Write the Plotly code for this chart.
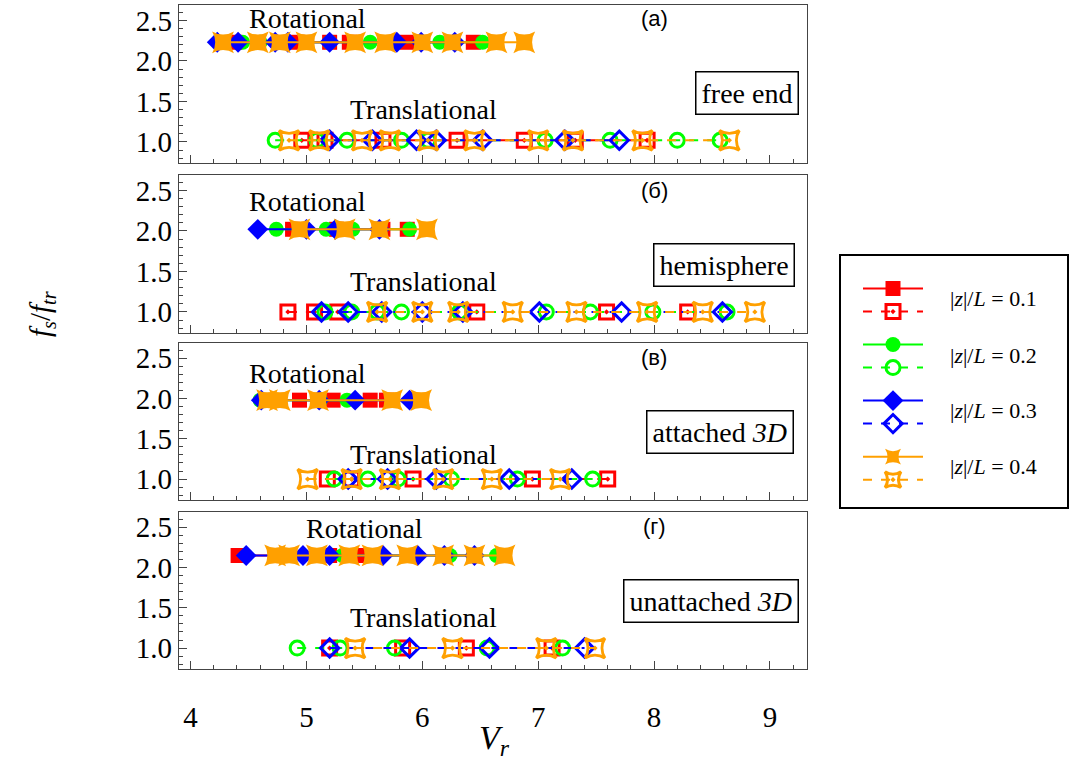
import plotly.graph_objects as go

# ---------------- data (V_r values) ----------------
z_values = ["0.1", "0.2", "0.3", "0.4"]
colors = ["#FF0000", "#00FF00", "#0000FF", "#FFA000"]
filled_symbols = ["square", "circle", "diamond", "star-diamond"]
open_symbols = ["square-open-dot", "circle-open", "diamond-open", "star-diamond-open-dot"]
symbol_angles = [0, 0, 0, 45]

panel_tags = ["(а)", "(б)", "(в)", "(г)"]
panel_names = ["free end", "hemisphere", "attached <i>3D</i>", "unattached <i>3D</i>"]

rot_level = [2.23, 2.02, 1.98, 2.15]
trans_level = [1.02, 1.0, 1.0, 1.0]

# panel (а) free end
a_rot_01 = [4.38, 4.92, 5.20, 5.37, 5.87, 6.44]
a_rot_02 = [4.45, 4.60, 5.20, 5.55, 6.15, 6.52]
a_rot_03 = [4.23, 4.41, 4.73, 4.84, 5.20, 5.78, 5.99, 6.28]
a_rot_04 = [4.28, 4.58, 4.77, 5.00, 5.42, 5.68, 6.00, 6.26, 6.64, 6.88]
a_tr_01 = [4.96, 5.16, 5.66, 6.30, 6.88, 7.32, 7.94]
a_tr_02 = [4.73, 5.09, 5.35, 5.82, 6.05, 7.06, 7.62, 8.20, 8.57]
a_tr_03 = [5.20, 5.57, 5.95, 6.12, 6.52, 7.23, 7.70]
a_tr_04 = [4.85, 5.11, 5.48, 5.72, 6.05, 6.45, 7.00, 7.30, 7.90, 8.65]

# panel (б) hemisphere
b_rot_01 = [4.88, 5.26, 5.66, 5.87]
b_rot_02 = [4.74, 5.17, 5.40, 5.89]
b_rot_03 = [4.58, 5.00, 5.25, 5.63]
b_rot_04 = [4.94, 5.33, 5.63, 6.04]
b_tr_01 = [4.84, 5.07, 5.27, 6.47, 7.59, 8.29]
b_tr_02 = [5.16, 5.39, 5.61, 5.82, 6.32, 7.07, 7.45, 7.99, 8.63]
b_tr_03 = [5.13, 5.36, 5.65, 6.00, 6.35, 7.01, 7.72, 8.59]
b_tr_04 = [5.61, 6.00, 6.31, 6.78, 7.33, 7.94, 8.42, 8.87]

# panel (в) attached 3D
c_rot_01 = [4.94, 5.23, 5.55, 5.69]
c_rot_02 = [4.60, 4.72, 5.12, 5.35]
c_rot_03 = [4.61, 5.11, 5.42, 5.89]
c_rot_04 = [4.66, 4.77, 5.10, 5.74, 5.99]
c_tr_01 = [5.18, 5.39, 5.92, 6.95, 7.60]
c_tr_02 = [5.24, 5.53, 5.79, 6.25, 6.82, 7.47]
c_tr_03 = [5.36, 5.70, 6.12, 6.75, 7.29]
c_tr_04 = [5.01, 5.39, 5.72, 6.18, 6.60, 7.19]

# panel (г) unattached 3D
d_rot_01 = [4.41, 4.85, 5.20, 5.49, 5.62]
d_rot_02 = [4.75, 5.11, 5.31, 5.63, 5.91, 6.24, 6.44, 6.64]
d_rot_03 = [4.48, 4.97, 5.20, 5.66, 5.96, 6.19, 6.45]
d_rot_04 = [4.73, 4.85, 5.09, 5.37, 5.57, 5.87, 6.18, 6.45, 6.71]
d_tr_01 = [5.20, 5.83, 6.38, 7.12]
d_tr_02 = [4.92, 5.29, 5.76, 6.56, 7.21]
d_tr_03 = [5.20, 5.89, 6.58, 7.40]
d_tr_04 = [5.42, 6.26, 7.07, 7.49]

rot_sets = [
    [a_rot_01, a_rot_02, a_rot_03, a_rot_04],
    [b_rot_01, b_rot_02, b_rot_03, b_rot_04],
    [c_rot_01, c_rot_02, c_rot_03, c_rot_04],
    [d_rot_01, d_rot_02, d_rot_03, d_rot_04],
]
tr_sets = [
    [a_tr_01, a_tr_02, a_tr_03, a_tr_04],
    [b_tr_01, b_tr_02, b_tr_03, b_tr_04],
    [c_tr_01, c_tr_02, c_tr_03, c_tr_04],
    [d_tr_01, d_tr_02, d_tr_03, d_tr_04],
]

# ---------------- layout helpers (pixel -> paper) ----------------
W, H = 1071, 763
ML, MR, MT, MB = 179, 3, 5, 94
PW = W - ML - MR
PH = H - MT - MB


def px_x(px):
    return (px - ML) / PW


def px_y(py):
    return (H - MB - py) / PH


panel_px = [(5, 163), (175, 333), (343, 500), (512, 669)]
x_dom = [0, px_x(807)]

SERIF = "Liberation Serif"
SANS = "Liberation Sans"

fig = go.Figure()

for p in range(4):
    xa = "x" if p == 0 else f"x{p + 1}"
    ya = "y" if p == 0 else f"y{p + 1}"
    for i in range(4):
        xs = sorted(rot_sets[p][i])
        fig.add_trace(go.Scatter(
            x=xs, y=[rot_level[p]] * len(xs), xaxis=xa, yaxis=ya,
            mode="lines+markers", name=" ",
            legendgroup=f"z{i}", showlegend=(p == 0),
            line=dict(color=colors[i], width=2),
            marker=dict(symbol=filled_symbols[i], color=colors[i], angle=symbol_angles[i],
                        size=[15, 15, 16, 22][i], line=dict(width=0)),
        ))
        xs = sorted(tr_sets[p][i])
        fig.add_trace(go.Scatter(
            x=xs, y=[trans_level[p]] * len(xs), xaxis=xa, yaxis=ya,
            mode="lines+markers", name=" ",
            legendgroup=f"z{i}", showlegend=(p == 0),
            line=dict(color=colors[i], width=2, dash="dash"),
            marker=dict(symbol=open_symbols[i], color=colors[i], angle=symbol_angles[i],
                        size=[14, 14, 14, 20][i], line=dict(width=3, color=colors[i])),
        ))

layout = dict(
    width=W, height=H,
    margin=dict(l=ML, r=MR, t=MT, b=MB),
    paper_bgcolor="white", plot_bgcolor="white",
    font=dict(family=SERIF, color="black"),
    showlegend=True,
    legend=dict(
        x=px_x(858), y=px_y(272), xanchor="left", yanchor="top",
        bgcolor="rgba(0,0,0,0)", borderwidth=0,
        traceorder="grouped", tracegroupgap=10,
        itemwidth=60, font=dict(size=15.4, family=SERIF),
        itemclick=False,
    ),
)

for p in range(4):
    sx = "" if p == 0 else str(p + 1)
    top, bot = panel_px[p]
    layout[f"xaxis{sx}"] = dict(
        domain=x_dom, range=[3.9, 9.32], anchor=f"y{sx}",
        showline=True, mirror=True, linecolor="#444", linewidth=1.2,
        ticks="inside", ticklen=8, tickcolor="#444", tick0=4, dtick=1,
        minor=dict(ticks="inside", ticklen=4, dtick=0.2, tick0=4, tickcolor="#444"),
        showgrid=False, zeroline=False,
        showticklabels=(p == 3), ticklabelstandoff=22,
        tickfont=dict(size=29, family=SERIF),
    )
    if p > 0:
        layout[f"xaxis{sx}"]["matches"] = "x"
    layout[f"yaxis{sx}"] = dict(
        domain=[px_y(bot), px_y(top)], range=[0.74, 2.69], anchor=f"x{sx}",
        showline=True, mirror=True, linecolor="#444", linewidth=1.2,
        ticks="inside", ticklen=8, tickcolor="#444", tick0=1.0, dtick=0.5,
        tickformat=".1f",
        minor=dict(ticks="inside", ticklen=4, dtick=0.1, tick0=1.0, tickcolor="#444"),
        showgrid=False, zeroline=False,
        tickfont=dict(size=29, family=SERIF),
    )

fig.update_layout(**layout)

# annotations
ann = []
rot_text_pos = [(5.01, 2.52), (5.01, 2.36), (5.01, 2.31), (5.50, 2.48)]
tr_text_pos = [(6.01, 1.40), (6.01, 1.38), (6.01, 1.30), (6.01, 1.38)]
tag_pos = [(8.0, 2.52), (8.0, 2.50), (8.0, 2.51), (8.0, 2.51)]
box_pos = [(8.80, 1.60), (8.60, 1.58), (8.57, 1.58), (8.49, 1.58)]
for p in range(4):
    xr = "x" if p == 0 else f"x{p + 1}"
    yr = "y" if p == 0 else f"y{p + 1}"
    ann.append(dict(x=rot_text_pos[p][0], y=rot_text_pos[p][1], xref=xr, yref=yr,
                    text="Rotational", showarrow=False,
                    font=dict(size=28, family=SERIF)))
    ann.append(dict(x=tr_text_pos[p][0], y=tr_text_pos[p][1], xref=xr, yref=yr,
                    text="Translational", showarrow=False,
                    font=dict(size=28, family=SERIF)))
    ann.append(dict(x=tag_pos[p][0], y=tag_pos[p][1], xref=xr, yref=yr,
                    text=panel_tags[p], showarrow=False,
                    font=dict(size=22, family=SANS)))
    ann.append(dict(x=box_pos[p][0], y=box_pos[p][1], xref=xr, yref=yr,
                    text=panel_names[p], showarrow=False,
                    font=dict(size=28, family=SERIF),
                    bordercolor="black", borderwidth=1.5, borderpad=5,
                    bgcolor="white"))

legend_label_py = [298, 355, 410, 466]
for i in range(4):
    ann.append(dict(x=px_x(948), y=px_y(legend_label_py[i]), xref="paper", yref="paper",
                    xanchor="left", yanchor="middle", showarrow=False,
                    text=f"|<i>z</i>|/<i>L</i> = {z_values[i]}",
                    font=dict(size=22, family=SERIF)))

ann.append(dict(x=px_x(42), y=px_y(314), xref="paper", yref="paper",
                xanchor="center", yanchor="middle",
                text="<i>f<sub>s</sub></i>/<i>f<sub>tr</sub></i>", textangle=-90,
                showarrow=False, font=dict(size=29, family=SERIF)))
ann.append(dict(x=px_x(494), y=px_y(740), xref="paper", yref="paper",
                xanchor="center", yanchor="middle",
                text="<i>V<sub>r</sub></i>", showarrow=False,
                font=dict(size=34, family=SERIF)))

fig.update_layout(annotations=ann)

fig.add_shape(type="rect", xref="paper", yref="paper",
              x0=px_x(840), x1=px_x(1068), y0=px_y(508), y1=px_y(255),
              line=dict(color="black", width=2), fillcolor="rgba(0,0,0,0)")

fig.write_html(
    "out.html",
    config={"displayModeBar": False},
    post_script="document.body.style.margin='0';document.body.style.padding='0';",
)
